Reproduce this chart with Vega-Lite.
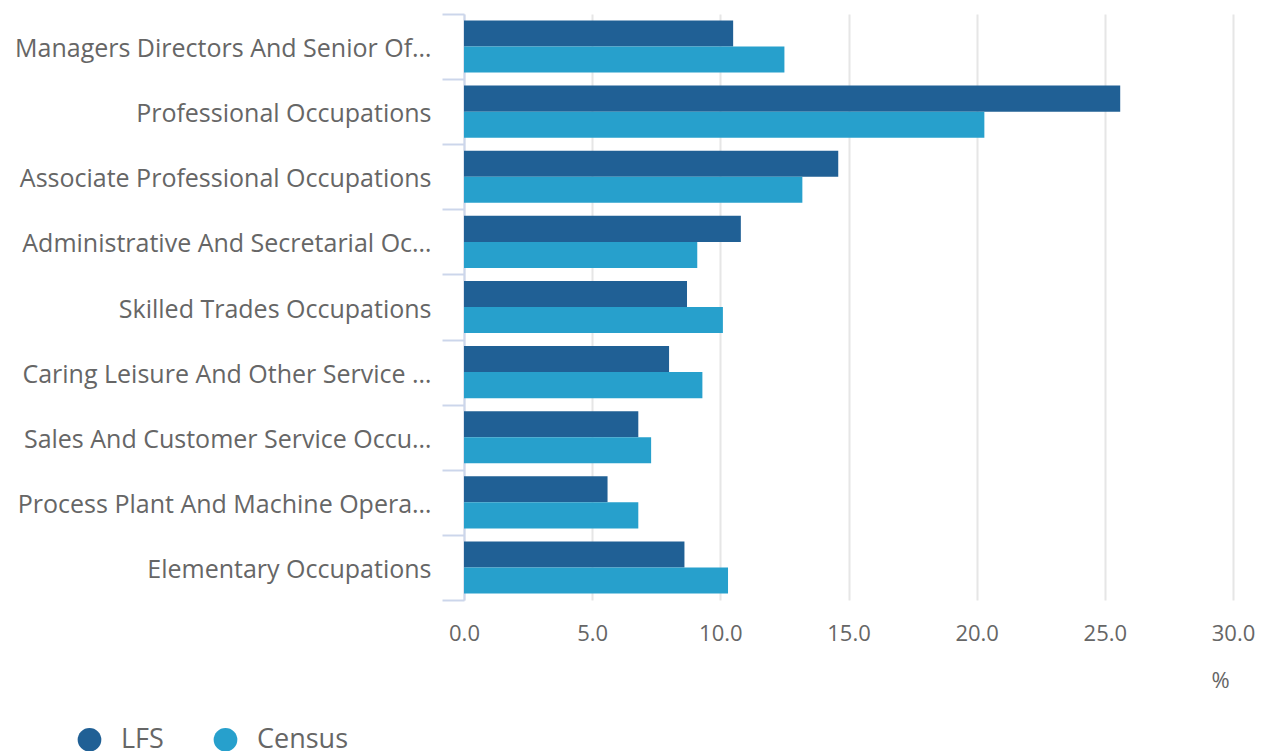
{
  "$schema": "https://vega.github.io/schema/vega-lite/v6.json",
  "autosize": "none",
  "width": 769,
  "height": 586,
  "padding": {"left": 464, "top": 14, "right": 31, "bottom": 151},
  "background": "white",
  "config": {
    "view": {"stroke": null},
    "font": "Open Sans"
  },
  "data": {
    "values": [
      {"occupation": "Managers Directors And Senior Officials", "source": "LFS", "value": 10.5},
      {"occupation": "Managers Directors And Senior Officials", "source": "Census", "value": 12.5},
      {"occupation": "Professional Occupations", "source": "LFS", "value": 25.6},
      {"occupation": "Professional Occupations", "source": "Census", "value": 20.3},
      {"occupation": "Associate Professional Occupations", "source": "LFS", "value": 14.6},
      {"occupation": "Associate Professional Occupations", "source": "Census", "value": 13.2},
      {"occupation": "Administrative And Secretarial Occupations", "source": "LFS", "value": 10.8},
      {"occupation": "Administrative And Secretarial Occupations", "source": "Census", "value": 9.1},
      {"occupation": "Skilled Trades Occupations", "source": "LFS", "value": 8.7},
      {"occupation": "Skilled Trades Occupations", "source": "Census", "value": 10.1},
      {"occupation": "Caring Leisure And Other Service Occupations", "source": "LFS", "value": 8.0},
      {"occupation": "Caring Leisure And Other Service Occupations", "source": "Census", "value": 9.3},
      {"occupation": "Sales And Customer Service Occupations", "source": "LFS", "value": 6.8},
      {"occupation": "Sales And Customer Service Occupations", "source": "Census", "value": 7.3},
      {"occupation": "Process Plant And Machine Operatives", "source": "LFS", "value": 5.6},
      {"occupation": "Process Plant And Machine Operatives", "source": "Census", "value": 6.8},
      {"occupation": "Elementary Occupations", "source": "LFS", "value": 8.6},
      {"occupation": "Elementary Occupations", "source": "Census", "value": 10.3}
    ]
  },
  "mark": {"type": "bar"},
  "encoding": {
    "y": {
      "field": "occupation",
      "type": "nominal",
      "sort": null,
      "scale": {"paddingInner": 0, "paddingOuter": 0},
      "axis": {
        "title": null,
        "tickBand": "extent",
        "domainColor": "#ccd6eb",
        "domainWidth": 2,
        "tickColor": "#ccd6eb",
        "tickWidth": 2,
        "tickSize": 22,
        "labelFont": "Open Sans",
        "labelFontSize": 25,
        "labelColor": "#666666",
        "labelPadding": 11,
        "labelOffset": 2,
        "labelLimit": 420,
        "grid": false
      }
    },
    "yOffset": {
      "field": "source",
      "type": "nominal",
      "sort": ["LFS", "Census"],
      "scale": {"paddingOuter": 0.25, "paddingInner": 0}
    },
    "x": {
      "field": "value",
      "type": "quantitative",
      "scale": {"domain": [0, 30], "nice": false},
      "axis": {
        "title": "%",
        "values": [0, 5, 10, 15, 20, 25, 30],
        "format": ".1f",
        "domain": false,
        "ticks": false,
        "grid": true,
        "gridColor": "#e6e6e6",
        "gridWidth": 2,
        "labelFlush": false,
        "labelFont": "Open Sans",
        "labelFontSize": 22,
        "labelColor": "#666666",
        "labelPadding": 23,
        "titleFont": "Open Sans",
        "titleFontSize": 22,
        "titleFontWeight": "normal",
        "titleColor": "#666666",
        "titleX": 756,
        "titleY": 80,
        "titleAlign": "center",
        "titleBaseline": "middle"
      }
    },
    "color": {
      "field": "source",
      "type": "nominal",
      "sort": ["LFS", "Census"],
      "scale": {"domain": ["LFS", "Census"], "range": ["#206095", "#27a0cc"]},
      "legend": {
        "title": null,
        "orient": "none",
        "direction": "horizontal",
        "legendX": -388,
        "legendY": 712,
        "symbolType": "circle",
        "symbolSize": 560,
        "symbolStrokeWidth": 0,
        "labelFont": "Open Sans",
        "labelFontSize": 27,
        "labelColor": "#666666",
        "labelOffset": 18,
        "columnPadding": 48
      }
    }
  }
}
